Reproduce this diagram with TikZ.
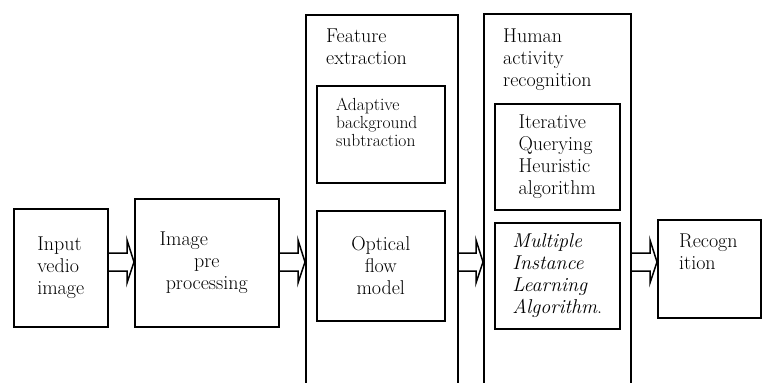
\documentclass[tikz,border=0pt]{standalone}
\usepackage{tikz}
\usetikzlibrary{positioning,calc}

\begin{document}
\begin{tikzpicture}[x=1pt, y=-1pt,
  box/.style={draw, line width=1.5pt, anchor=north west, inner sep=0pt,
    font=\fontsize{20}{22}\selectfont},
  txt/.style={anchor=north west, inner sep=0pt, align=left,
    font=\fontsize{20}{22}\selectfont},
  blockarrow/.style={draw, line width=1.5pt, line join=miter}]
  \clip (0,0) rectangle (766,383);

  \node[box, minimum width=94, minimum height=118, align=left] (inp) at (13,208) {Input\\vedio\\image};
  \node[box, minimum width=144, minimum height=128, align=center] (pre) at (134,198) {Image\hspace*{46pt}\\pre\\processing};

  \node[box, minimum width=152, minimum height=400] (feat) at (305,14) {};
  \node[txt] (featlbl) at ($(feat.north west)+(21,15)$) {Feature\\extraction};
  \node[box, minimum width=128, minimum height=97] (adapt) at (316,85) {};
  \node[txt, font=\fontsize{17.5}{18}\selectfont] (adapttxt) at ($(adapt.north west)+(20,13)$) {Adaptive\\background\\subtraction};
  \node[box, minimum width=128, minimum height=110, align=center] (opt) at (316,210) {Optical\\flow\\model};

  \node[box, minimum width=147, minimum height=400] (har) at (483,13) {};
  \node[txt] (harlbl) at ($(har.north west)+(20,16)$) {Human\\activity\\recognition};
  \node[box, minimum width=125, minimum height=106, align=left] (iter) at (494,103) {Iterative\\Querying\\Heuristic\\algorithm};
  \node[box, minimum width=125, minimum height=106, align=left] (mil) at (494,222)
    {\itshape Multiple\\\itshape Instance\\\itshape Learning\\\itshape Algorithm{\upshape.}};

  \node[box, minimum width=103, minimum height=98] (rec) at (657,219) {};
  \node[txt] (rectxt) at ($(rec.north west)+(22,15)$) {Recogn\\ition};

  \foreach \a/\b in {inp/pre, pre/feat, feat/har, har/rec}
    \draw[blockarrow] ($(\a.east |- 0,253)$) -- ($(\b.west |- 0,253)+(-7,0)$) -- ++(0,-13)
      -- ($(\b.west |- 0,262)$) -- ($(\b.west |- 0,271)+(-7,12)$) -- ++(0,-12)
      -- ($(\a.east |- 0,271)$);
\end{tikzpicture}
\end{document}
